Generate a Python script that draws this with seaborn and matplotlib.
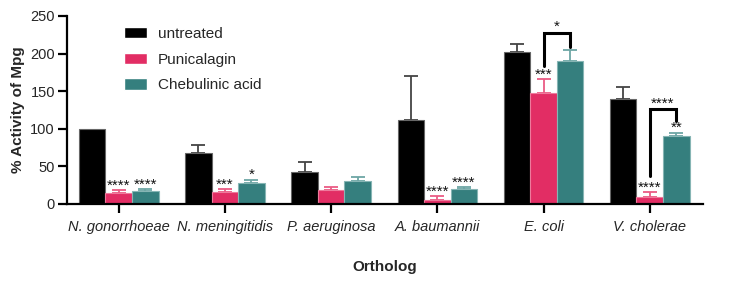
import numpy as np
import pandas as pd
import matplotlib
matplotlib.use("Agg")
import matplotlib.pyplot as plt
import seaborn as sns

sns.set_style("ticks")
plt.rcParams["font.family"] = ["Liberation Sans", "DejaVu Sans"]

orthologs = ["N. gonorrhoeae", "N. meningitidis", "P. aeruginosa",
             "A. baumannii", "E. coli", "V. cholerae"]
treatments = ["untreated", "Punicalagin", "Chebulinic acid"]

untreated = [100, 68, 42, 112, 202, 140]
untreated_err = [0, 11, 14, 58, 11, 16]
punicalagin = [15, 15.5, 18, 5, 147, 9]
punicalagin_err = [3, 4, 5, 5.5, 19, 6.5]
chebulinic = [17, 28, 31, 20, 190, 90]
chebulinic_err = [3, 4.5, 4.5, 2, 15, 5]

punicalagin_sig = ["****", "***", "", "****", "***", "****"]
chebulinic_sig = ["****", "*", "", "****", "", "**"]

# bracket comparisons Punicalagin vs Chebulinic acid: (ortholog, top, left foot, right foot, label)
brackets = [("E. coli", 228, 183, 209, "*"),
            ("V. cholerae", 126, 37, 111, "****")]

colors = ["#000000", "#E22D64", "#357F7E"]
edge_colors = ["#666666", "#EE7A9C", "#86B5B4"]
err_colors = ["#444444", "#EB5C85", "#6DA6A5"]

df = pd.DataFrame({
    "Ortholog": orthologs * 3,
    "Treatment": np.repeat(treatments, len(orthologs)),
    "Activity": untreated + punicalagin + chebulinic,
})
means = [untreated, punicalagin, chebulinic]
errs = [untreated_err, punicalagin_err, chebulinic_err]
sigs = [None, punicalagin_sig, chebulinic_sig]

fig = plt.figure(figsize=(7.39, 2.82), dpi=100)
ax = fig.add_axes([0.0903, 0.2766, 0.8607, 0.6667])

sns.barplot(data=df, x="Ortholog", y="Activity", hue="Treatment",
            palette=colors, saturation=1, width=0.75, errorbar=None,
            ax=ax, zorder=2)

bar_containers = list(ax.containers)
centers = {}
for i, cont in enumerate(bar_containers):
    xs = np.array([p.get_x() + p.get_width() / 2 for p in cont.patches])
    for p in cont.patches:
        p.set_edgecolor(edge_colors[i])
        p.set_linewidth(0.8)
    centers[i] = xs
    m = np.array(means[i], dtype=float)
    e = np.array(errs[i], dtype=float)
    keep = e > 0
    ax.errorbar(xs[keep], m[keep], yerr=[np.zeros(keep.sum()), e[keep]],
                fmt="none", ecolor=err_colors[i], elinewidth=1.3,
                capsize=4.7, capthick=1.3, zorder=1)
    if sigs[i] is not None:
        for x, y, err, s in zip(xs, m, e, sigs[i]):
            if s:
                ax.annotate(s, (x, y + err), xytext=(0, 0.2),
                            textcoords="offset points", ha="center",
                            va="baseline", fontsize=11, color="#111111")

for name, top, left, right, label in brackets:
    k = orthologs.index(name)
    x1, x2 = centers[1][k], centers[2][k]
    ax.plot([x1, x1, x2, x2], [left, top, top, right], color="black",
            lw=2.2, solid_joinstyle="miter", zorder=3)
    ax.annotate(label, ((x1 + x2) / 2, top), xytext=(0, 1.2),
                textcoords="offset points", ha="center", va="baseline",
                fontsize=11, color="#111111")

ax.set_ylim(0, 250)
ax.set_xlim(-0.49, 5.5)
ax.set_yticks([0, 50, 100, 150, 200, 250])
ax.set_ylabel("% Activity of Mpg", fontsize=11, fontweight="bold", labelpad=4)
ax.set_xlabel("Ortholog", fontsize=11, fontweight="bold", labelpad=19)
ax.tick_params(axis="both", width=1.6, length=6.5, color="black")
ax.tick_params(axis="y", labelsize=10.5, pad=2)
ax.tick_params(axis="x", labelsize=10.5, pad=5)
for lab in ax.get_xticklabels():
    lab.set_fontstyle("italic")
for s in ["left", "bottom"]:
    ax.spines[s].set_linewidth(1.6)
    ax.spines[s].set_color("black")
sns.despine(ax=ax)

handles, labels = ax.get_legend_handles_labels()
ax.legend(handles, labels, loc="upper left", bbox_to_anchor=(0.09, 0.942),
          frameon=False, fontsize=11, handlelength=1.5, handleheight=0.78,
          handletextpad=0.7, labelspacing=0.76, borderpad=0, borderaxespad=0)

fig.savefig("out.png", dpi=100)
